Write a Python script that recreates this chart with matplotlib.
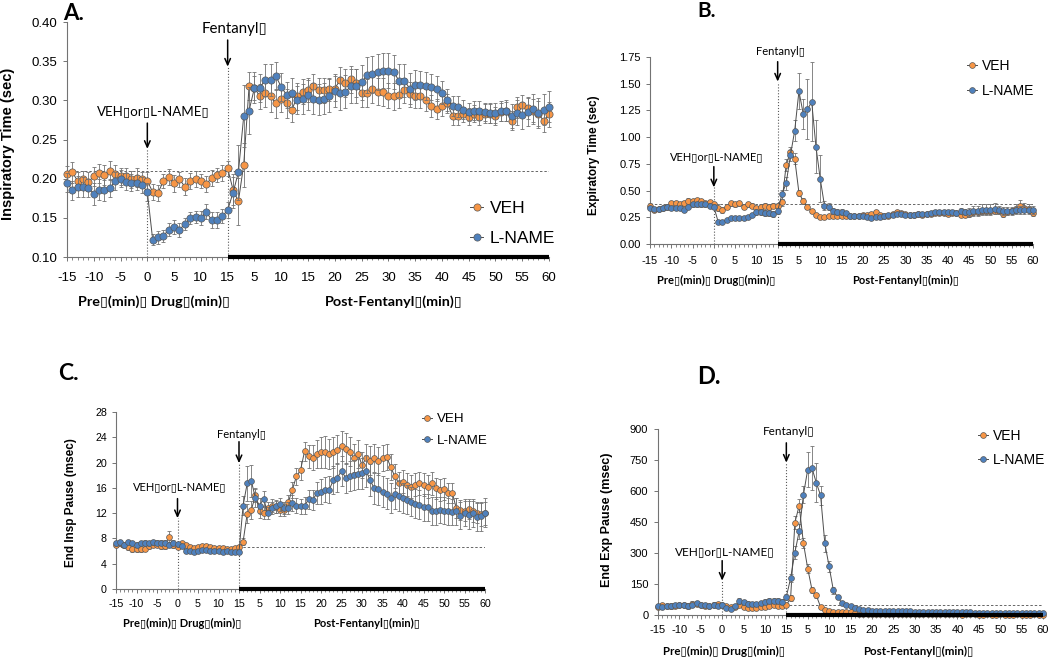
import matplotlib
matplotlib.use("Agg")
import matplotlib.pyplot as plt
from matplotlib.lines import Line2D
from matplotlib.ticker import MultipleLocator
import numpy as np

W, H = 1050, 657
ORANGE = "#F79646"
BLUE = "#4F81BD"
SANS = ["Liberation Sans", "DejaVu Sans"]
CALIBRI = ["Lato", "DejaVu Sans"]

# time axis: -15..15 (pre + drug), then 60 post-fentanyl minutes
minutes_pre = list(range(-15, 16))
minutes_post = list(range(1, 61))
tick_labels = [str(v) for v in range(-15, 16, 5)] + [str(v) for v in range(5, 61, 5)]

# ---- A. Inspiratory time (sec)
ti_veh_pre = [0.206, 0.208, 0.197, 0.199, 0.196, 0.203, 0.207, 0.205, 0.210, 0.206, 0.203,
              0.204, 0.199, 0.201, 0.199, 0.197, 0.183, 0.182, 0.197, 0.202, 0.194, 0.199,
              0.190, 0.197, 0.200, 0.197, 0.193, 0.201, 0.205, 0.207, 0.213]
ti_veh_post = [0.186, 0.171, 0.218, 0.318, 0.316, 0.305, 0.310, 0.305, 0.296, 0.302, 0.296,
               0.288, 0.305, 0.311, 0.313, 0.318, 0.313, 0.313, 0.314, 0.315, 0.326, 0.322,
               0.327, 0.322, 0.309, 0.309, 0.314, 0.311, 0.311, 0.306, 0.305, 0.307, 0.313,
               0.308, 0.305, 0.305, 0.301, 0.293, 0.289, 0.293, 0.296, 0.280, 0.280, 0.282,
               0.279, 0.283, 0.279, 0.283, 0.283, 0.280, 0.285, 0.286, 0.274, 0.291, 0.294,
               0.290, 0.287, 0.283, 0.274, 0.282]
ti_lname_pre = [0.195, 0.185, 0.190, 0.189, 0.188, 0.181, 0.186, 0.185, 0.188, 0.197, 0.200,
                0.196, 0.195, 0.195, 0.192, 0.183, 0.122, 0.125, 0.127, 0.135, 0.138, 0.135,
                0.142, 0.150, 0.151, 0.150, 0.158, 0.147, 0.147, 0.152, 0.160]
ti_lname_post = [0.182, 0.208, 0.280, 0.287, 0.316, 0.316, 0.326, 0.326, 0.331, 0.317, 0.307,
                 0.310, 0.300, 0.302, 0.307, 0.302, 0.301, 0.302, 0.306, 0.312, 0.309, 0.311,
                 0.318, 0.318, 0.323, 0.332, 0.333, 0.336, 0.338, 0.338, 0.336, 0.325, 0.325,
                 0.315, 0.320, 0.320, 0.318, 0.317, 0.315, 0.310, 0.300, 0.293, 0.292, 0.288,
                 0.285, 0.287, 0.287, 0.285, 0.284, 0.284, 0.286, 0.287, 0.280, 0.284, 0.281,
                 0.285, 0.289, 0.284, 0.288, 0.292]
ti_veh_err = [0.010, 0.013, 0.012, 0.011, 0.012, 0.012, 0.012, 0.013, 0.012, 0.012, 0.011,
              0.010, 0.011, 0.012, 0.010, 0.011, 0.010, 0.010, 0.009, 0.010, 0.011, 0.010,
              0.011, 0.010, 0.010, 0.009, 0.010, 0.010, 0.009, 0.010, 0.010,
              0.020, 0.030, 0.028, 0.018, 0.015, 0.016, 0.018, 0.020, 0.018, 0.017, 0.018,
              0.016, 0.017, 0.016, 0.015, 0.015, 0.016, 0.016, 0.015, 0.016, 0.017, 0.018,
              0.017, 0.018, 0.017, 0.018, 0.018, 0.017, 0.018, 0.016, 0.017, 0.017, 0.016,
              0.016, 0.015, 0.015, 0.014, 0.014, 0.013, 0.013, 0.012, 0.011, 0.011, 0.010,
              0.011, 0.011, 0.011, 0.012, 0.012, 0.012, 0.012, 0.012, 0.012, 0.013, 0.013,
              0.014, 0.015, 0.016, 0.015, 0.016]
ti_lname_err = [0.012, 0.012, 0.013, 0.013, 0.012, 0.014, 0.013, 0.013, 0.012, 0.012, 0.011,
                0.011, 0.011, 0.010, 0.010, 0.012, 0.007, 0.008, 0.008, 0.008, 0.009, 0.009,
                0.008, 0.008, 0.008, 0.009, 0.010, 0.010, 0.010, 0.009, 0.010,
                0.020, 0.035, 0.040, 0.030, 0.020, 0.018, 0.020, 0.020, 0.018, 0.018, 0.017,
                0.018, 0.018, 0.019, 0.019, 0.020, 0.020, 0.020, 0.021, 0.021, 0.021, 0.021,
                0.022, 0.022, 0.022, 0.023, 0.023, 0.023, 0.022, 0.022, 0.022, 0.021, 0.021,
                0.020, 0.019, 0.018, 0.018, 0.017, 0.016, 0.015, 0.014, 0.013, 0.013, 0.012,
                0.012, 0.012, 0.012, 0.012, 0.013, 0.013, 0.013, 0.014, 0.015, 0.016, 0.017,
                0.018, 0.019, 0.019, 0.020, 0.020]

# ---- B. Expiratory time (sec)
te_veh_pre = [0.36, 0.32, 0.33, 0.34, 0.35, 0.38, 0.38, 0.37, 0.38, 0.40, 0.40, 0.41, 0.40,
              0.38, 0.39, 0.37, 0.34, 0.32, 0.35, 0.38, 0.37, 0.38, 0.35, 0.37, 0.36, 0.34,
              0.35, 0.36, 0.35, 0.36, 0.36]
te_veh_post = [0.39, 0.74, 0.86, 0.80, 0.48, 0.40, 0.35, 0.31, 0.27, 0.25, 0.25, 0.26, 0.26,
               0.26, 0.26, 0.26, 0.26, 0.26, 0.26, 0.27, 0.27, 0.28, 0.30, 0.27, 0.26, 0.26,
               0.28, 0.30, 0.29, 0.28, 0.27, 0.27, 0.28, 0.27, 0.28, 0.28, 0.29, 0.29, 0.29,
               0.28, 0.29, 0.29, 0.27, 0.27, 0.28, 0.30, 0.30, 0.31, 0.31, 0.31, 0.31, 0.31,
               0.28, 0.30, 0.31, 0.33, 0.36, 0.34, 0.33, 0.29]
te_lname_pre = [0.34, 0.33, 0.33, 0.34, 0.35, 0.34, 0.34, 0.34, 0.32, 0.35, 0.37, 0.37, 0.37,
                0.37, 0.36, 0.35, 0.21, 0.21, 0.22, 0.24, 0.24, 0.24, 0.24, 0.25, 0.27, 0.30,
                0.30, 0.29, 0.29, 0.28, 0.31]
te_lname_post = [0.465, 0.57, 0.83, 1.06, 1.43, 1.22, 1.26, 1.33, 0.91, 0.61, 0.36, 0.35,
                 0.31, 0.30, 0.30, 0.29, 0.26, 0.26, 0.26, 0.26, 0.25, 0.24, 0.25, 0.25, 0.26,
                 0.27, 0.27, 0.28, 0.28, 0.27, 0.27, 0.27, 0.28, 0.28, 0.28, 0.29, 0.30, 0.30,
                 0.30, 0.30, 0.30, 0.29, 0.31, 0.30, 0.30, 0.31, 0.31, 0.32, 0.32, 0.32, 0.33,
                 0.32, 0.31, 0.31, 0.31, 0.32, 0.32, 0.32, 0.32, 0.32]
te_veh_err = [0.02, 0.02, 0.02, 0.02, 0.02, 0.02, 0.02, 0.02, 0.02, 0.03, 0.02, 0.02, 0.02,
              0.02, 0.02, 0.02, 0.03, 0.03, 0.02, 0.02, 0.02, 0.02, 0.02, 0.02, 0.02, 0.02,
              0.02, 0.02, 0.02, 0.02, 0.02,
              0.03, 0.06, 0.05, 0.05, 0.03, 0.03, 0.02, 0.02, 0.02, 0.02, 0.02, 0.02, 0.02,
              0.02, 0.02, 0.02, 0.02, 0.02, 0.02, 0.02, 0.02, 0.02, 0.02, 0.02, 0.02, 0.02,
              0.02, 0.02, 0.02, 0.02, 0.02, 0.02, 0.02, 0.02, 0.02, 0.02, 0.02, 0.02, 0.02,
              0.02, 0.02, 0.02, 0.02, 0.02, 0.03, 0.03, 0.03, 0.03, 0.03, 0.03, 0.03, 0.03,
              0.03, 0.03, 0.03, 0.04, 0.05, 0.04, 0.04, 0.03]
te_lname_err = [0.02, 0.02, 0.02, 0.02, 0.02, 0.02, 0.02, 0.02, 0.02, 0.02, 0.02, 0.02, 0.02,
                0.02, 0.02, 0.02, 0.01, 0.01, 0.01, 0.01, 0.01, 0.01, 0.02, 0.02, 0.02, 0.03,
                0.03, 0.03, 0.03, 0.03, 0.03,
                0.04, 0.06, 0.05, 0.10, 0.17, 0.14, 0.28, 0.37, 0.25, 0.22, 0.04, 0.03, 0.03,
                0.03, 0.03, 0.02, 0.02, 0.02, 0.02, 0.02, 0.02, 0.02, 0.02, 0.02, 0.02, 0.02,
                0.02, 0.02, 0.02, 0.02, 0.02, 0.02, 0.02, 0.02, 0.02, 0.02, 0.02, 0.02, 0.02,
                0.02, 0.02, 0.02, 0.03, 0.03, 0.04, 0.05, 0.05, 0.05, 0.05, 0.05, 0.05, 0.04,
                0.04, 0.04, 0.04, 0.04, 0.04, 0.04, 0.04, 0.04]

# ---- C. End inspiratory pause (msec)
eip_veh_pre = [7.0, 7.2, 7.0, 6.6, 6.3, 6.3, 6.3, 6.4, 6.8, 7.0, 7.0, 6.8, 6.8, 8.2, 6.9, 6.7,
               7.2, 6.9, 6.6, 6.5, 6.6, 6.8, 6.8, 6.6, 6.5, 6.5, 6.5, 6.4, 6.4, 6.5, 6.6]
eip_veh_post = [7.5, 11.9, 12.5, 14.8, 12.3, 12.0, 12.8, 13.2, 13.0, 12.5, 12.5, 13.7, 15.7,
                17.8, 18.8, 21.8, 21.0, 20.8, 21.4, 21.6, 21.7, 21.4, 21.6, 22.0, 22.6, 22.2,
                21.7, 20.7, 21.4, 19.6, 20.7, 20.3, 20.7, 20.3, 20.7, 20.9, 19.3, 17.8, 16.7,
                17.0, 16.5, 16.2, 16.5, 16.7, 16.5, 16.2, 16.7, 15.9, 15.7, 15.8, 15.2, 15.2,
                12.8, 12.5, 12.3, 12.6, 12.3, 12.1, 11.8, 12.0]
eip_lname_pre = [7.2, 7.4, 6.9, 7.4, 7.2, 7.0, 7.2, 7.3, 7.2, 7.4, 7.3, 7.3, 7.3, 7.0, 7.3,
                 7.1, 6.8, 6.0, 6.0, 5.9, 6.0, 6.1, 6.1, 6.0, 6.0, 6.0, 5.9, 6.0, 5.9, 5.9, 5.9]
eip_lname_post = [13.2, 16.7, 17.1, 14.4, 13.2, 14.3, 12.0, 12.8, 13.1, 13.4, 12.8, 12.8,
                  13.6, 13.2, 13.1, 13.2, 14.2, 14.1, 15.2, 15.4, 15.7, 15.7, 17.2, 17.6, 18.7,
                  17.6, 17.9, 18.0, 18.2, 18.3, 18.7, 17.2, 15.9, 15.8, 15.4, 15.1, 14.4, 15.0,
                  14.7, 14.4, 14.1, 13.8, 13.5, 13.3, 12.9, 12.9, 12.3, 12.4, 12.5, 12.4, 12.3,
                  12.2, 12.3, 11.6, 12.1, 11.7, 12.0, 11.4, 11.5, 12.1]
eip_veh_err = [0.4, 0.4, 0.4, 0.4, 0.4, 0.4, 0.4, 0.4, 0.4, 0.4, 0.4, 0.4, 0.4, 1.0, 0.4, 0.4,
               0.3, 0.3, 0.3, 0.3, 0.3, 0.3, 0.3, 0.3, 0.3, 0.3, 0.3, 0.3, 0.3, 0.3, 0.3,
               0.6, 1.5, 1.5, 1.0, 1.0, 1.0, 1.0, 1.0, 1.0, 1.0, 1.0, 1.2, 1.3, 1.4, 1.5, 1.5,
               1.8, 2.0, 2.2, 2.4, 2.5, 2.4, 2.4, 2.3, 2.4, 2.5, 2.3, 2.2, 2.2, 2.1, 2.2, 2.3,
               2.2, 2.2, 2.1, 2.0, 2.0, 1.9, 1.8, 1.8, 1.8, 1.8, 1.8, 1.8, 1.8, 1.8, 1.8, 1.7,
               1.7, 1.7, 1.6, 1.6, 1.6, 1.6, 1.6, 1.6, 1.7, 1.7, 1.8, 1.8]
eip_lname_err = [0.4, 0.4, 0.4, 0.4, 0.4, 0.4, 0.4, 0.4, 0.4, 0.4, 0.4, 0.4, 0.4, 0.4, 0.4, 0.4,
                 0.3, 0.3, 0.3, 0.3, 0.3, 0.3, 0.3, 0.3, 0.3, 0.3, 0.3, 0.3, 0.3, 0.3, 0.3,
                 1.5, 2.8, 2.5, 1.5, 1.2, 1.2, 1.0, 1.0, 1.0, 1.0, 1.0, 1.0, 1.2, 1.2, 1.2, 1.3,
                 1.5, 1.6, 1.8, 2.0, 2.0, 2.1, 2.2, 2.3, 2.4, 2.4, 2.4, 2.4, 2.4, 2.5, 2.5, 2.5,
                 2.5, 2.5, 2.5, 2.4, 2.4, 2.4, 2.4, 2.3, 2.3, 2.3, 2.3, 2.3, 2.2, 2.2, 2.2, 2.2,
                 2.1, 2.1, 2.1, 2.1, 2.1, 2.1, 2.2, 2.2, 2.2, 2.2, 2.3, 2.3]

# ---- D. End expiratory pause (msec)
eep_veh_pre = [40, 47, 45, 42, 45, 48, 50, 45, 55, 52, 48, 45, 42, 50, 52, 50, 45, 40, 38, 50,
               38, 35, 35, 35, 40, 38, 45, 48, 45, 42, 48]
eep_veh_post = [82, 447, 529, 347, 225, 122, 95, 39, 26, 18, 14, 13, 14, 16, 13, 10, 6, 5, 5, 5,
                5, 4, 4, 5, 4, 4, 3, 4, 3, 3, 3, 4, 3, 3, 3, 3, 3, 3, 3, 3, 2, 3, 3, 3, 2, 2, 3,
                2, 2, 3, 2, 2, 2, 3, 2, 2, 2, 3, 2, 2]
eep_lname_pre = [42, 38, 42, 45, 48, 50, 50, 42, 48, 58, 48, 50, 45, 50, 45, 50, 32, 30, 42, 68,
                 62, 55, 55, 52, 58, 65, 70, 68, 68, 65, 88]
eep_lname_post = [178, 302, 405, 582, 704, 711, 640, 579, 347, 235, 119, 87, 58, 50, 45, 34, 31,
                  26, 23, 21, 20, 20, 19, 19, 18, 18, 18, 17, 17, 16, 16, 16, 15, 15, 15, 15, 14,
                  14, 14, 13, 13, 13, 13, 12, 12, 12, 12, 12, 11, 11, 11, 11, 11, 10, 10, 10, 10,
                  10, 10, 10]
eep_veh_err = [10, 9, 10, 11, 10, 9, 10, 11, 12, 10, 10, 9, 10, 11, 10, 10, 9, 8, 8, 10, 9, 8,
               8, 8, 9, 9, 10, 10, 10, 9, 10,
               15, 30, 30, 25, 20, 15, 12, 8, 6, 5, 4, 4, 4, 4, 4, 3, 3, 3, 3, 3, 3, 3, 3, 3,
               3, 3, 3, 3, 3, 3, 3, 3, 3, 3, 3, 3, 3, 3, 3, 3, 3, 3, 3, 3, 3, 3, 3, 3, 3, 3,
               3, 3, 3, 3, 3, 3, 3, 3, 3, 3]
eep_lname_err = [10, 9, 10, 11, 10, 10, 10, 11, 10, 12, 10, 10, 9, 10, 10, 10, 8, 8, 9, 14, 12,
                 11, 10, 10, 11, 12, 13, 12, 12, 12, 15,
                 20, 30, 35, 40, 85, 105, 95, 45, 40, 25, 15, 10, 8, 6, 5, 5, 4, 4, 4, 4, 4, 4,
                 4, 4, 4, 4, 4, 4, 4, 4, 4, 4, 4, 4, 4, 4, 4, 4, 4, 4, 4, 4, 4, 4, 4, 4, 4, 4,
                 4, 4, 4, 4, 4, 4, 4, 4, 4, 4, 4, 4]

x = minutes_pre + [15 + m for m in minutes_post]

fig = plt.figure(figsize=(W / 100, H / 100), dpi=100)


def px_box(left, right, top, bottom):
    return [left / W, 1 - bottom / H, (right - left) / W, (bottom - top) / H]


def draw_panel(ax, veh, veh_err, lname, lname_err, ylim, ystep, yfmt, ylabel, label_xy,
               baseline, fen_y, drug_y, tick_fs, pads, label_fs, ann_fs, ann_dx, ms, leg):
    ymin, ymax = ylim
    for i, (y, e, col) in enumerate(((veh, veh_err, ORANGE), (lname, lname_err, BLUE))):
        z = 3 + 3 * i
        ax.errorbar(x, y, yerr=e, fmt="none", ecolor="0.45", elinewidth=0.6,
                    capsize=1.6, capthick=0.6, zorder=z, clip_on=False)
        ax.plot(x, y, "-", color="0.3", lw=0.7, zorder=z + 1)
        ax.plot(x, y, "o", ms=ms, mfc=col, mec="0.35", mew=0.5, zorder=z + 2, clip_on=False)

    ax.axhline(baseline, color="0.4", lw=0.7, ls=(0, (2.5, 2)), zorder=1)
    ax.plot([0, 0], [ymin, drug_y[2]], color="0.35", lw=0.8, ls=":", zorder=1)
    ax.plot([15, 15], [ymin, fen_y[2]], color="0.35", lw=0.8, ls=":", zorder=1)
    ax.plot([15, 75], [ymin, ymin], color="black", lw=3, solid_capstyle="butt",
            clip_on=False, zorder=10)

    for xpos, (ty, tail, tip), txt, fs in ((15, fen_y, "Fentanyl\u25af", ann_fs[0]),
                                           (0, drug_y, "VEH\u25afor\u25afL-NAME\u25af", ann_fs[1])):
        ax.text(xpos + ann_dx, ty, txt, ha="center", va="center", fontsize=fs,
                family=CALIBRI, clip_on=False)
        ax.annotate("", xy=(xpos, tip), xytext=(xpos, tail),
                    arrowprops=dict(arrowstyle="->,head_length=0.45,head_width=0.2",
                                    color="black", lw=1.1, shrinkA=0, shrinkB=0))

    ax.set_xlim(-15, 75)
    ax.set_ylim(ymin, ymax)
    ax.set_xticks(range(-15, 76, 5), tick_labels)
    ax.xaxis.set_minor_locator(MultipleLocator(1))
    ax.set_yticks(np.arange(ymin, ymax + ystep / 2, ystep))
    ax.yaxis.set_major_formatter(plt.FormatStrFormatter(yfmt))
    for side in ("top", "right"):
        ax.spines[side].set_visible(False)
    for side in ("left", "bottom"):
        ax.spines[side].set_color("0.45")
        ax.spines[side].set_linewidth(0.8)
    ax.tick_params(axis="both", which="major", direction="out", length=3, width=0.7,
                   color="0.45", labelsize=tick_fs)
    ax.tick_params(axis="x", which="major", pad=pads[0])
    ax.tick_params(axis="y", which="major", pad=pads[1])
    ax.tick_params(axis="x", which="minor", direction="out", length=2.5, width=0.6,
                   color="0.45")
    for lab in ax.get_xticklabels() + ax.get_yticklabels():
        lab.set_family(SANS)
    ax.set_ylabel(ylabel, fontsize=label_fs, fontweight="bold", family=SANS)
    ax.yaxis.set_label_coords(*label_xy)
    ax.patch.set_visible(False)

    handles = [Line2D([], [], color="0.3", lw=0.7, marker="o", ms=ms, mfc=c, mec="0.35", mew=0.5)
               for c in (ORANGE, BLUE)]
    lx, ly, lfs, lsp = leg
    ax.legend(handles, ["VEH", "L-NAME"], loc="upper left", bbox_to_anchor=(lx, ly),
              frameon=False, handlelength=0.75, handletextpad=0.35,
              labelspacing=lsp, borderpad=0, borderaxespad=0,
              prop=dict(family=SANS, size=lfs))


ax_a = fig.add_axes(px_box(67, 549, 22, 257))
draw_panel(ax_a, ti_veh_pre + ti_veh_post, ti_veh_err, ti_lname_pre + ti_lname_post, ti_lname_err,
           (0.10, 0.40), 0.05, "%.2f", "Inspiratory Time (sec)", (-0.108, 0.48),
           0.21, (0.391, 0.377, 0.343), (0.286, 0.271, 0.238), 9.5, (7.5, 4.2), 10.5,
           (10.8, 9.6), 1.2, 5.2, (0.837, 0.237, 12.5, 0.85))

ax_b = fig.add_axes(px_box(650, 1033, 57, 244))
draw_panel(ax_b, te_veh_pre + te_veh_post, te_veh_err, te_lname_pre + te_lname_post, te_lname_err,
           (0.0, 1.75), 0.25, "%.2f", "Expiratory Time (sec)", (-0.13, 0.476),
           0.37, (1.806, 1.706, 1.52), (0.814, 0.724, 0.53), 8, (5.5, 3.5), 8.5,
           (8, 8), 0.6, 4.2, (0.827, 0.991, 10, 0.81))

ax_c = fig.add_axes(px_box(116, 485, 412, 589))
draw_panel(ax_c, eip_veh_pre + eip_veh_post, eip_veh_err, eip_lname_pre + eip_lname_post,
           eip_lname_err, (0, 28), 4, "%d", "End Insp Pause (msec)", (-0.106, 0.486),
           6.7, (24.4, 23.3, 19.9), (16.1, 14.3, 11.2), 7.7, (4.5, 3.5), 8.5,
           (8, 8), 0.6, 4.2, (0.829, 0.994, 9.6, 0.66))

ax_d = fig.add_axes(px_box(658, 1043, 429, 615))
draw_panel(ax_d, eep_veh_pre + eep_veh_post, eep_veh_err, eep_lname_pre + eep_lname_post,
           eep_lname_err, (0, 900), 150, "%d", "End Exp Pause (msec)", (-0.117, 0.51),
           50, (887, 833, 737), (306, 263, 166), 8, (4.5, 4), 9,
           (8.5, 8.5), 0.6, 4.2, (0.831, 1.0, 10, 0.74))

# panel letters
for txt, px, py, fs in (("A.", 63, 14, 16), ("B.", 697, 11, 15),
                        ("C.", 58, 373, 16.5), ("D.", 697, 376, 17)):
    fig.text(px / W, 1 - py / H, txt, ha="left", va="center", fontsize=fs,
             fontweight="bold", family=CALIBRI)

# period labels under the x axes
for px, py, post_x, fs in ((78, 302, 325, 10.4), (657, 280, 852, 8),
                           (123, 623, 313, 8), (663, 651, 863, 8.3)):
    fig.text(px / W, 1 - py / H, "Pre\u25af(min)\u25af Drug\u25af(min)\u25af", ha="left",
             va="center", fontsize=fs, fontweight="bold", family=CALIBRI)
    fig.text(post_x / W, 1 - py / H, "Post-Fentanyl\u25af(min)\u25af", ha="left",
             va="center", fontsize=fs, fontweight="bold", family=CALIBRI)

fig.savefig("out.png", dpi=100)
